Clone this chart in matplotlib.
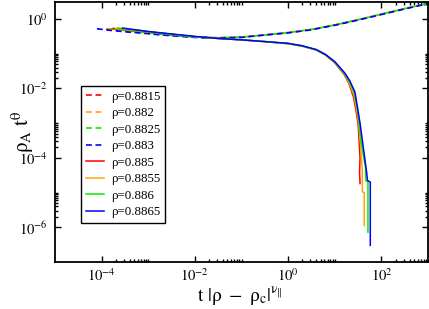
import matplotlib

matplotlib.use("Agg")
import matplotlib.pyplot as plt  # noqa: E402
import numpy as np  # noqa: E402
from matplotlib.ticker import FixedLocator, FuncFormatter, NullFormatter  # noqa: E402

plt.rcParams["font.family"] = ["Liberation Serif", "DejaVu Serif"]
plt.rcParams["mathtext.fontset"] = "stix"

# data, stored as log10 values of x = t|rho-rho_c|^nu and y = rho_A t^theta
# active side (dashed)
labels_active = ["ρ=0.8815", "ρ=0.882", "ρ=0.8825", "ρ=0.883"]
lx_active = [
    [-3.90, -3.50, -3.00, -2.50, -2.00, -1.50, -1.00, -0.50, 0.00, 0.50, 1.00, 1.50, 2.00, 2.50, 3.05],
    [-3.85, -3.50, -3.00, -2.50, -2.00, -1.50, -1.00, -0.50, 0.00, 0.50, 1.00, 1.50, 2.00, 2.50, 3.05],
    [-3.80, -3.50, -3.00, -2.50, -2.00, -1.50, -1.00, -0.50, 0.00, 0.50, 1.00, 1.50, 2.00, 2.50, 3.05],
    [-4.10, -3.86, -3.48, -3.11, -2.71, -2.32, -1.89, -1.50, -1.00, -0.50, 0.00, 0.50, 1.00, 1.50, 2.00, 2.50, 3.05],
]
ly_active = [
    [-0.29, -0.34, -0.41, -0.47, -0.52, -0.54, -0.52, -0.46, -0.39, -0.30, -0.17, -0.02, 0.14, 0.30, 0.47],
    [-0.28, -0.33, -0.40, -0.47, -0.52, -0.54, -0.52, -0.46, -0.39, -0.30, -0.17, -0.02, 0.14, 0.30, 0.47],
    [-0.28, -0.33, -0.40, -0.47, -0.52, -0.54, -0.52, -0.46, -0.39, -0.30, -0.17, -0.02, 0.14, 0.30, 0.47],
    [-0.28, -0.32, -0.37, -0.41, -0.46, -0.50, -0.54, -0.55, -0.53, -0.46, -0.40, -0.31, -0.18, -0.03, 0.13, 0.29, 0.46],
]

# absorbing side (solid)
labels_absorb = ["ρ=0.885", "ρ=0.8855", "ρ=0.886", "ρ=0.8865"]
lx_absorb = [
    [-3.75, -3.00, -2.50, -2.00, -1.50, -1.00, -0.50, 0.00, 0.30, 0.60, 0.80, 1.00, 1.20, 1.30, 1.40, 1.45, 1.50, 1.52, 1.54, 1.53, 1.54],
    [-3.70, -3.00, -2.50, -2.00, -1.50, -1.00, -0.50, 0.00, 0.30, 0.60, 0.80, 1.00, 1.20, 1.30, 1.41, 1.46, 1.51, 1.55, 1.58, 1.59, 1.59, 1.63, 1.63],
    [-3.65, -3.00, -2.50, -2.00, -1.50, -1.00, -0.50, 0.00, 0.30, 0.60, 0.80, 1.00, 1.20, 1.31, 1.42, 1.47, 1.52, 1.57, 1.62, 1.66, 1.66, 1.71, 1.71],
    [-3.55, -3.00, -2.50, -2.00, -1.50, -1.00, -0.50, 0.00, 0.30, 0.60, 0.80, 1.00, 1.21, 1.32, 1.43, 1.48, 1.54, 1.60, 1.64, 1.68, 1.70, 1.76, 1.76],
]
ly_absorb = [
    [-0.27, -0.37, -0.44, -0.51, -0.56, -0.60, -0.65, -0.71, -0.78, -0.89, -1.04, -1.26, -1.60, -1.85, -2.25, -2.60, -3.05, -3.50, -4.00, -4.40, -4.74],
    [-0.27, -0.37, -0.44, -0.51, -0.56, -0.60, -0.65, -0.71, -0.78, -0.89, -1.04, -1.25, -1.58, -1.82, -2.20, -2.55, -3.00, -3.60, -4.20, -4.40, -4.98, -5.00, -5.95],
    [-0.26, -0.36, -0.44, -0.51, -0.56, -0.60, -0.65, -0.71, -0.78, -0.88, -1.03, -1.24, -1.56, -1.80, -2.15, -2.50, -3.00, -3.60, -4.00, -4.30, -4.65, -4.70, -6.14],
    [-0.26, -0.36, -0.43, -0.50, -0.56, -0.60, -0.65, -0.70, -0.77, -0.88, -1.02, -1.23, -1.55, -1.78, -2.10, -2.50, -3.00, -3.60, -4.00, -4.40, -4.65, -4.70, -6.52],
]

colors = ["#ff0000", "#ffa500", "#00ee00", "#0000ff"]

x_major = [1e-4, 1e-2, 1e0, 1e2]
y_major = [1e-6, 1e-4, 1e-2, 1e0]


def minor_ticks(majors):
    return [k * m for m in majors for k in range(2, 11)]


fig = plt.figure(figsize=(4.29, 3.09), dpi=100)
ax = fig.add_axes([0.128, 0.152, 0.870, 0.8415])

for lx, ly, c, lab in zip(lx_active, ly_active, colors, labels_active):
    ax.plot(np.power(10.0, lx), np.power(10.0, ly), color=c, lw=1.2,
            dashes=(3.5, 2.2), label=lab)
for lx, ly, c, lab in zip(lx_absorb, ly_absorb, colors, labels_absorb):
    ax.plot(np.power(10.0, lx), np.power(10.0, ly), color=c, lw=1.1, label=lab)

ax.set_xscale("log")
ax.set_yscale("log")
ax.set_xlim(1e-5, 1e3)
ax.set_ylim(1e-7, 10 ** 0.49)

fmt = FuncFormatter(lambda v, p: r"$\mathrm{10}^{%d}$" % round(np.log10(v)))
ax.xaxis.set_major_locator(FixedLocator(x_major))
ax.xaxis.set_minor_locator(FixedLocator(minor_ticks(x_major)))
ax.yaxis.set_major_locator(FixedLocator(y_major))
ax.yaxis.set_minor_locator(FixedLocator(minor_ticks(y_major[:3])))
ax.xaxis.set_major_formatter(fmt)
ax.yaxis.set_major_formatter(fmt)
ax.xaxis.set_minor_formatter(NullFormatter())
ax.yaxis.set_minor_formatter(NullFormatter())
ax.tick_params(which="both", direction="in", top=True, right=True, width=1.0, labelsize=10.5)
ax.tick_params(which="major", length=4.5)
ax.tick_params(which="minor", length=2.2)
ax.tick_params(axis="y", pad=5)
ax.tick_params(axis="x", pad=4)
for sp in ax.spines.values():
    sp.set_linewidth(1.3)

ax.set_xlabel(r"$\mathrm{t}\ |\mathrm{\rho}\ -\ \mathrm{\rho}_\mathrm{c}|^{\mathrm{\nu}_{\Vert}}$", fontsize=14)
ax.set_ylabel(r"$\mathrm{\rho}_\mathrm{A}\ \mathrm{t}^{\mathrm{\theta}}$", fontsize=15)
ax.xaxis.set_label_coords(0.496, -0.088)
ax.yaxis.set_label_coords(-0.052, 0.5)

leg = ax.legend(loc="upper left", bbox_to_anchor=(0.07, 0.677), fontsize=9.3,
                frameon=True, fancybox=False, edgecolor="black", framealpha=1,
                handlelength=1.4, handletextpad=0.6, borderpad=0.35,
                labelspacing=0.35, borderaxespad=0)
leg.get_frame().set_linewidth(1.0)

fig.savefig("out.png", dpi=100)
